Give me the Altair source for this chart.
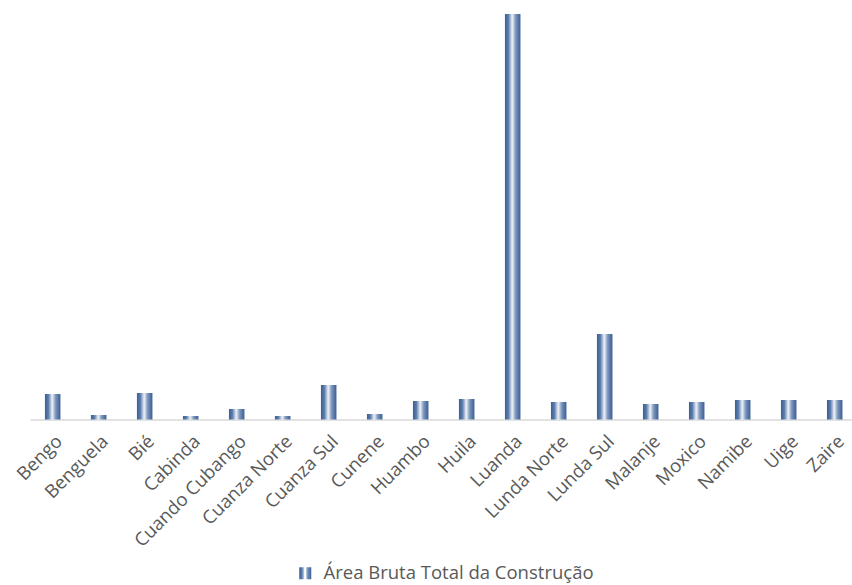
import altair as alt
import pandas as pd

# Províncias de Angola e a área bruta total de construção (unidades relativas)
provincias = [
    "Bengo", "Benguela", "Bié", "Cabinda", "Cuando Cubango", "Cuanza Norte",
    "Cuanza Sul", "Cunene", "Huambo", "Huila", "Luanda", "Lunda Norte",
    "Lunda Sul", "Malanje", "Moxico", "Namibe", "Uige", "Zaire",
]
area = [25.5, 4.5, 26.5, 3.5, 10.5, 3.5, 34.5, 5.5, 18.5, 20.5,
        405.5, 17.5, 85.5, 15.5, 17.5, 19.5, 19.5, 19.5]
serie = "Área Bruta Total da Construção"

df = pd.DataFrame({"Província": provincias, "Área": area, "Série": serie})

# Degradê horizontal das barras: azul nas bordas, quase branco no meio
gradiente = alt.LinearGradient(
    gradient="linear", x1=0, x2=1, y1=0, y2=0,
    stops=[
        alt.GradientStop(offset=0.0, color="#3a5f92"),
        alt.GradientStop(offset=0.22, color="#5a7cad"),
        alt.GradientStop(offset=0.47, color="#eef2f8"),
        alt.GradientStop(offset=0.7, color="#7893bc"),
        alt.GradientStop(offset=1.0, color="#3a5f92"),
    ],
)

FONTE = "Open Sans"
CINZA = "#595959"

# Símbolo da legenda: duas faixas verticais
simbolo = "M-1,-1H-0.15V1H-1Z M0.15,-1H1V1H0.15Z"

chart = (
    alt.Chart(df)
    .mark_bar(fill=gradiente, strokeWidth=0)
    .encode(
        x=alt.X(
            "Província:N",
            sort=provincias,
            title=None,
            scale=alt.Scale(paddingInner=0.663, paddingOuter=0.266, align=0.61),
            axis=alt.Axis(
                labelAngle=-45,
                ticks=False,
                domainColor="#d9d9d9",
                domainWidth=1.5,
                labelFont=FONTE,
                labelFontSize=18.5,
                labelColor=CINZA,
                labelPadding=12,
                labelLimit=0,
            ),
        ),
        y=alt.Y("Área:Q", scale=alt.Scale(domain=[0, 405.5], nice=False), axis=None),
        stroke=alt.Stroke(
            "Série:N",
            scale=alt.Scale(range=["#4a6fa0"]),
            legend=alt.Legend(
                title=None,
                orient="none",
                legendX=266,
                legendY=550,
                symbolType=simbolo,
                symbolSize=144,
                symbolStrokeWidth=0,
                symbolFillColor="#4a6fa0",
                labelFont=FONTE,
                labelFontSize=18.5,
                labelColor=CINZA,
                labelOffset=9,
                labelLimit=0,
            ),
        ),
    )
    .properties(
        width=822,
        height=405.5,
        padding={"left": 30, "top": 14, "right": 0, "bottom": 165.5},
        autosize="none",
    )
    .configure_view(stroke=None)
)

chart.save("out.html", embed_options={"renderer": "svg", "actions": False})
